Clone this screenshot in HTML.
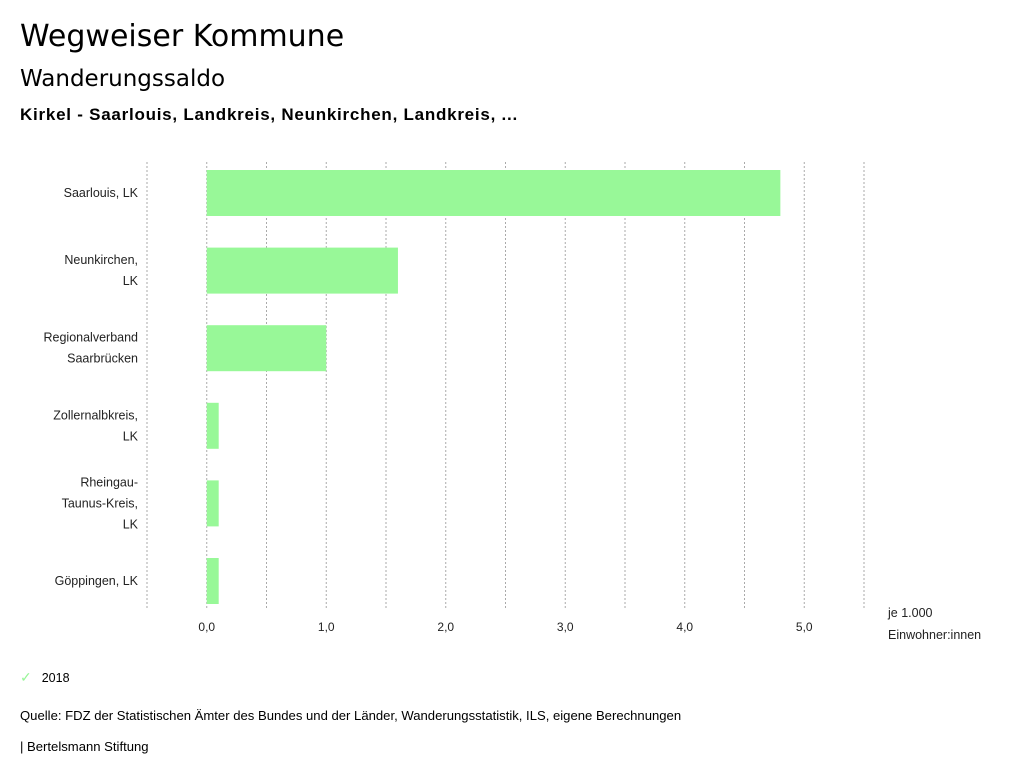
<!DOCTYPE html>
<html><head><meta charset="utf-8"><style>
body{margin:0;width:1024px;height:780px;background:#fff;font-family:"Liberation Sans",sans-serif;color:#000;position:relative;overflow:hidden}
.t{position:absolute;white-space:nowrap}
svg text{font-family:"Liberation Sans",sans-serif}
</style></head><body>
<div class="t" style="left:20px;top:19px;font-size:30px;font-family:'DejaVu Sans',sans-serif">Wegweiser Kommune</div>
<div class="t" style="left:20px;top:66px;font-size:23px;font-family:'DejaVu Sans',sans-serif">Wanderungssaldo</div>
<div class="t" style="left:20px;top:105px;font-size:17px;font-weight:bold;letter-spacing:0.75px">Kirkel - Saarlouis, Landkreis, Neunkirchen, Landkreis, ...</div>
<svg id="chart" width="1024" height="660" style="position:absolute;left:0;top:0"></svg>
<div class="t" style="left:20px;top:669px;font-size:12.5px"><span style="color:#98f598;font-size:14px;margin-right:10px">✓</span>2018</div>
<div class="t" style="left:20px;top:708px;font-size:13.1px">Quelle: FDZ der Statistischen Ämter des Bundes und der Länder, Wanderungsstatistik, ILS, eigene Berechnungen</div>
<div class="t" style="left:20px;top:739px;font-size:13.1px">| Bertelsmann Stiftung</div>
<script>
const categories=[["Saarlouis, LK"],["Neunkirchen,","LK"],["Regionalverband","Saarbrücken"],["Zollernalbkreis,","LK"],["Rheingau-","Taunus-Kreis,","LK"],["Göppingen, LK"]];
const values=[4.8,1.6,1.0,0.1,0.1,0.1];
const tickValues=[0,1,2,3,4,5];
const tickLabels=["0,0","1,0","2,0","3,0","4,0","5,0"];
const NS="http://www.w3.org/2000/svg";
const svg=document.getElementById('chart');
const xMin=-0.5,xMax=5.5,x0=147,x1=864,top0=162,bot=610;
const x=v=>x0+(v-xMin)/(xMax-xMin)*(x1-x0);
const step=77.6,c0=193,bh=46;
const y=i=>c0+i*step;
function mk(t,a){const e=document.createElementNS(NS,t);for(const k in a)e.setAttribute(k,a[k]);svg.appendChild(e);return e;}
for(let g=xMin;g<=xMax+1e-9;g+=0.5){
 const l=mk('line',{x1:x(g),x2:x(g),y1:top0,y2:bot,stroke:'#aaa','stroke-dasharray':'2,2','stroke-width':1});
 
 
}
values.forEach((v,i)=>{
 const r=mk('rect',{x:Math.min(x(0),x(v)),y:y(i)-bh/2,width:Math.abs(x(v)-x(0)),height:bh,fill:'#98f898'});
 
 
 const lines=categories[i];
 lines.forEach((s,j)=>{
  const t=mk('text',{x:138,y:y(i)+4+(j-(lines.length-1)/2)*21,'text-anchor':'end','font-size':12.5,fill:'#222'});
  t.textContent=s;
  
  
 });
});
tickValues.forEach((v,i)=>{
 const t=mk('text',{x:x(v),y:631,'text-anchor':'middle','font-size':12,fill:'#222'});
 t.textContent=tickLabels[i];
 
 
});
[["je 1.000",617],["Einwohner:innen",639]].forEach(a=>{
 const t=mk('text',{x:888,y:a[1],'font-size':12.5,fill:'#222'});
 t.textContent=a[0];
 
 
});
</script>
</body></html>
